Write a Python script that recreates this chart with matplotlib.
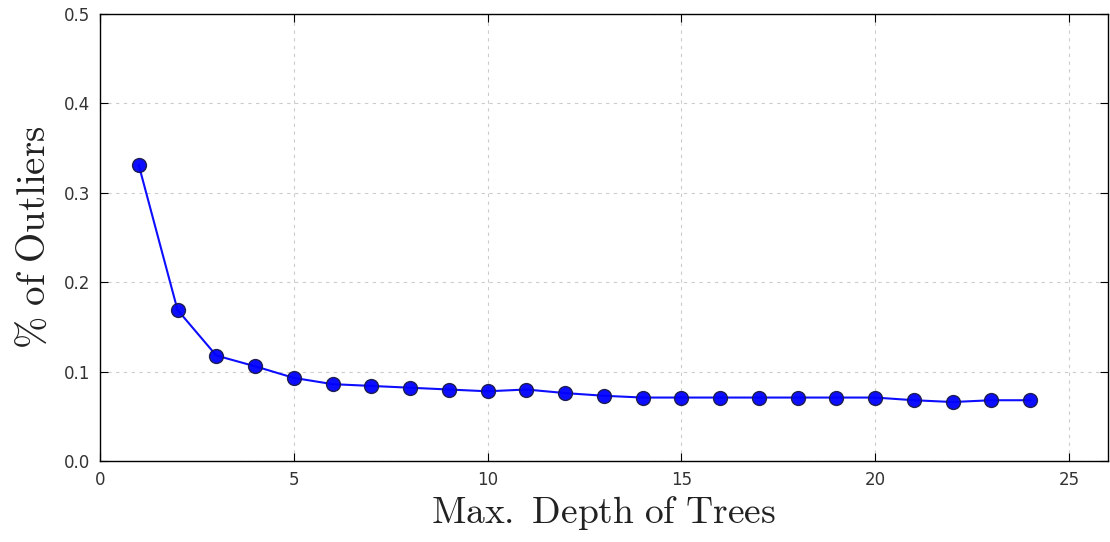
import matplotlib
matplotlib.use("Agg")
import matplotlib.pyplot as plt

depth = list(range(1, 25))
outliers = [0.331, 0.169, 0.118, 0.106, 0.093, 0.086, 0.084, 0.082, 0.080,
            0.078, 0.080, 0.076, 0.073, 0.071, 0.071, 0.071, 0.071, 0.071,
            0.071, 0.071, 0.068, 0.066, 0.068, 0.068]
xticks = [0, 5, 10, 15, 20, 25]
yticks = [0.0, 0.1, 0.2, 0.3, 0.4, 0.5]

plt.rcParams['mathtext.fontset'] = 'cm'
plt.rcParams['font.family'] = 'DejaVu Sans'

fig = plt.figure(figsize=(11.1, 5.42), dpi=100)
ax = fig.add_axes([0.0901, 0.1494, 0.9079, 0.8247])

ax.plot(depth, outliers, color='blue', linewidth=1.5, marker='o',
        markersize=10, markerfacecolor='blue', markeredgecolor='#1a1a4a',
        markeredgewidth=1.0, alpha=0.95)

ax.set_xlim(0, 26)
ax.set_ylim(0, 0.5)
ax.set_xticks(xticks)
ax.set_yticks(yticks)
ax.set_xticklabels([str(t) for t in xticks])
ax.set_yticklabels([f"{t:.1f}" for t in yticks])
ax.tick_params(direction='in', top=True, right=True, labelsize=12,
               labelcolor='#333333', length=6, width=0.8, pad=7)
ax.grid(True, color='#cccccc', linestyle=(0, (3, 4)), linewidth=0.8)
for s in ax.spines.values():
    s.set_linewidth(1.0)
    s.set_color('black')

ax.set_xlabel(r'$\mathrm{Max.\ Depth\ of\ Trees}$', fontsize=27, color='#222222', labelpad=4)
ax.set_ylabel(r'$\%\ \mathrm{of\ Outliers}$', fontsize=28, color='#222222', labelpad=8)

fig.savefig('out.png', dpi=100, facecolor='white')
